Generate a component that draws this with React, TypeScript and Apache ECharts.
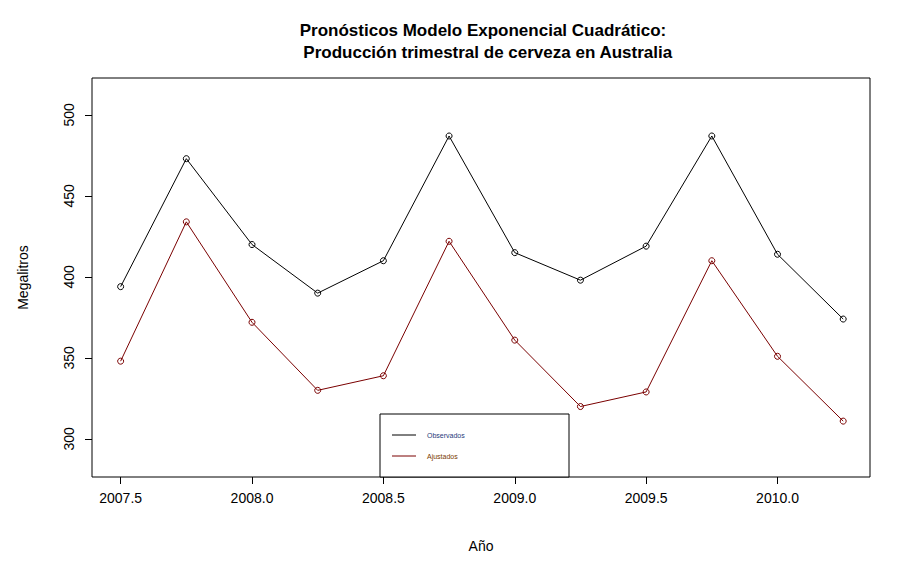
import React, { useEffect, useRef } from 'react';
import * as echarts from 'echarts';

const years = [2007.5, 2007.75, 2008.0, 2008.25, 2008.5, 2008.75, 2009.0, 2009.25, 2009.5, 2009.75, 2010.0, 2010.25];
const observados = [394, 473, 420, 390, 410, 487, 415, 398, 419, 487, 414, 374];
const ajustados = [348, 434, 372, 330, 339, 422, 361, 320, 329, 410, 351, 311];
const xTicks = [2007.5, 2008.0, 2008.5, 2009.0, 2009.5, 2010.0];
const yTicks = [300, 350, 400, 450, 500];

const font = 'Liberation Sans, Arial, sans-serif';

export default function App() {
  const ref = useRef<HTMLDivElement>(null);

  useEffect(() => {
    if (!ref.current) return;
    const chart = echarts.init(ref.current, null, { renderer: 'svg' });
    const sym = { symbol: 'circle', symbolSize: 6, showSymbol: true };
    chart.setOption({
      animation: false,
      backgroundColor: '#fff',
      title: {
        text: 'Pronósticos Modelo Exponencial Cuadrático:\n  Producción trimestral de cerveza en Australia',
        left: 470, top: 6, textAlign: 'center',
        textStyle: { fontFamily: font, fontSize: 17, fontWeight: 'bold', color: '#000', lineHeight: 22 },
      },
      grid: { left: 72, top: 70, width: 790, height: 399, show: true, borderColor: '#000', borderWidth: 1 },
      xAxis: {
        type: 'value', min: 2007.391, max: 2010.352,
        name: 'Año', nameLocation: 'middle', nameGap: 62,
        nameTextStyle: { fontFamily: font, fontSize: 14, color: '#000' },
        axisLine: { show: false },
        splitLine: { show: false },
        axisTick: { show: true, length: 7, customValues: xTicks, lineStyle: { color: '#000' } },
        axisLabel: { customValues: xTicks, fontFamily: font, fontSize: 14, color: '#000', margin: 14, formatter: (v: number) => v.toFixed(1) },
      },
      yAxis: {
        type: 'value', min: 276.5, max: 522.8,
        name: 'Megalitros', nameLocation: 'middle', nameGap: 62,
        nameTextStyle: { fontFamily: font, fontSize: 14, color: '#000' },
        axisLine: { show: false },
        splitLine: { show: false },
        axisTick: { show: true, length: 7, customValues: yTicks, lineStyle: { color: '#000' } },
        axisLabel: { customValues: yTicks, rotate: 90, fontFamily: font, fontSize: 14, color: '#000', margin: 16 },
      },
      series: [
        {
          type: 'line', data: years.map((y, i) => [y, observados[i]]), ...sym,
          lineStyle: { color: '#000', width: 1 },
          itemStyle: { color: 'transparent', borderColor: '#000', borderWidth: 1 },
        },
        {
          type: 'line', data: years.map((y, i) => [y, ajustados[i]]), ...sym,
          lineStyle: { color: '#7a0000', width: 1 },
          itemStyle: { color: 'transparent', borderColor: '#7a0000', borderWidth: 1 },
        },
      ],
      graphic: [
        { type: 'rect', shape: { x: 372, y: 406, width: 189, height: 63 }, style: { fill: '#fff', stroke: '#000', lineWidth: 1 } },
        { type: 'line', shape: { x1: 384, y1: 427, x2: 408, y2: 427 }, style: { stroke: '#000', lineWidth: 1 } },
        { type: 'line', shape: { x1: 384, y1: 448, x2: 408, y2: 448 }, style: { stroke: '#7a0000', lineWidth: 1 } },
        { type: 'text', x: 419, y: 427, style: { text: 'Observados', fontFamily: font, fontSize: 7, fill: '#1f3a7a', verticalAlign: 'middle' } },
        { type: 'text', x: 419, y: 448, style: { text: 'Ajustados', fontFamily: font, fontSize: 7, fill: '#7a3a00', verticalAlign: 'middle' } },
      ],
    });
    return () => chart.dispose();
  }, []);

  return <div ref={ref} style={{ width: 896, height: 558 }} />;
}
